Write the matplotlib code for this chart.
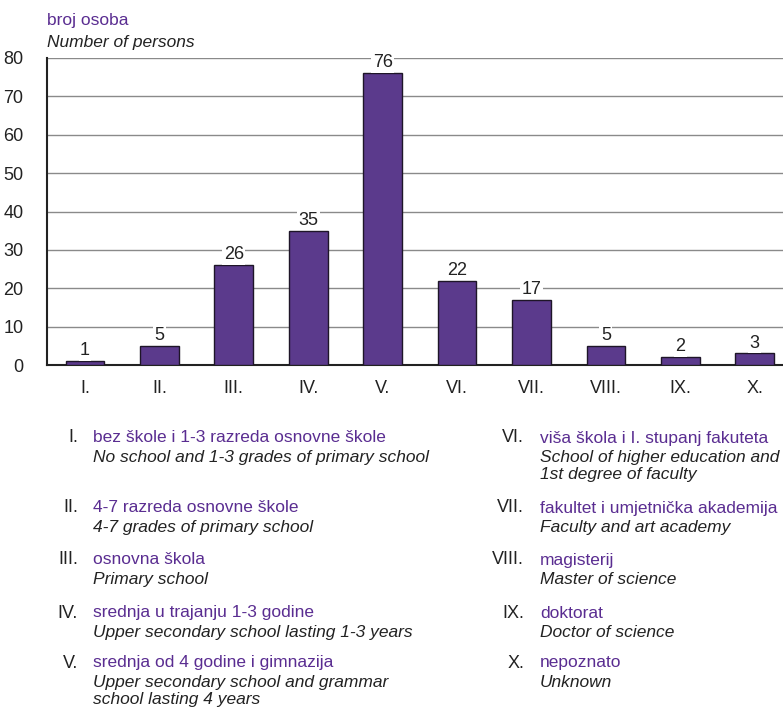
import matplotlib
matplotlib.use("Agg")
import matplotlib.pyplot as plt
import numpy as np

plt.rcParams["font.family"] = ["Liberation Sans", "DejaVu Sans"]

PURPLE = "#5b3a8c"
TEXT_PURPLE = "#5a2d91"

categories = ["I.", "II.", "III.", "IV.", "V.", "VI.", "VII.", "VIII.", "IX.", "X."]
counts = [1, 5, 26, 35, 76, 22, 17, 5, 2, 3]
yticks = [0, 10, 20, 30, 40, 50, 60, 70, 80]

legend_hr = [
    "bez škole i 1-3 razreda osnovne škole",
    "4-7 razreda osnovne škole",
    "osnovna škola",
    "srednja u trajanju 1-3 godine",
    "srednja od 4 godine i gimnazija",
    "viša škola i I. stupanj fakuteta",
    "fakultet i umjetnička akademija",
    "magisterij",
    "doktorat",
    "nepoznato",
]
legend_en = [
    "No school and 1-3 grades of primary school",
    "4-7 grades of primary school",
    "Primary school",
    "Upper secondary school lasting 1-3 years",
    "Upper secondary school and grammar\nschool lasting 4 years",
    "School of higher education and\n1st degree of faculty",
    "Faculty and art academy",
    "Master of science",
    "Doctor of science",
    "Unknown",
]

W, H = 783, 713
fig = plt.figure(figsize=(W / 100, H / 100), dpi=100)
ax = fig.add_axes([47 / W, 1 - 365 / H, (W - 47) / W, (365 - 58) / H])

x = np.arange(len(categories))
ax.bar(x, counts, width=0.52, color=PURPLE, edgecolor="#1e1528", linewidth=1.0, zorder=3)
ax.set_xlim(-0.51, 9.38)
ax.set_ylim(0, 80)
ax.set_yticks(yticks)
ax.set_xticks(x)
ax.set_xticklabels(categories)
ax.tick_params(axis="both", length=0, labelsize=13, colors="#222222")
ax.tick_params(axis="x", pad=11)
ax.tick_params(axis="y", pad=17)
ax.grid(axis="y", color="#8a8a8a", linewidth=1.0, zorder=0)
for s in ["top", "right"]:
    ax.spines[s].set_visible(False)
ax.spines["left"].set_linewidth(1.5)
ax.spines["bottom"].set_linewidth(1.5)
ax.spines["left"].set_color("#222222")
ax.spines["bottom"].set_color("#222222")
ax.set_axisbelow(True)

for xi, v in zip(x, counts):
    ax.text(xi, v + 0.5, str(v), ha="center", va="bottom", fontsize=13, color="#222222",
            bbox=dict(facecolor="white", edgecolor="none", pad=1.0), zorder=4)

fig.text(47 / W, 1 - 20 / H, "broj osoba", color=TEXT_PURPLE, fontsize=12.5, va="center")
fig.text(47 / W, 1 - 42 / H, "Number of persons", color="#222222", fontsize=12.5,
         style="italic", va="center")

rows_y = [438, 508, 560, 613, 663]
cols = [(78, 93), (524, 540)]
for i in range(10):
    col = cols[i // 5]
    y0 = rows_y[i % 5]
    fig.text(col[0] / W, 1 - y0 / H, categories[i], ha="right", va="center",
             fontsize=13, color="#222222")
    fig.text(col[1] / W, 1 - y0 / H, legend_hr[i], ha="left", va="center",
             fontsize=12.5, color=TEXT_PURPLE)
    fig.text(col[1] / W, 1 - (y0 + 12) / H, legend_en[i], ha="left", va="top",
             fontsize=12.5, color="#222222", style="italic", linespacing=1.2)

fig.savefig("out.png", dpi=100)
